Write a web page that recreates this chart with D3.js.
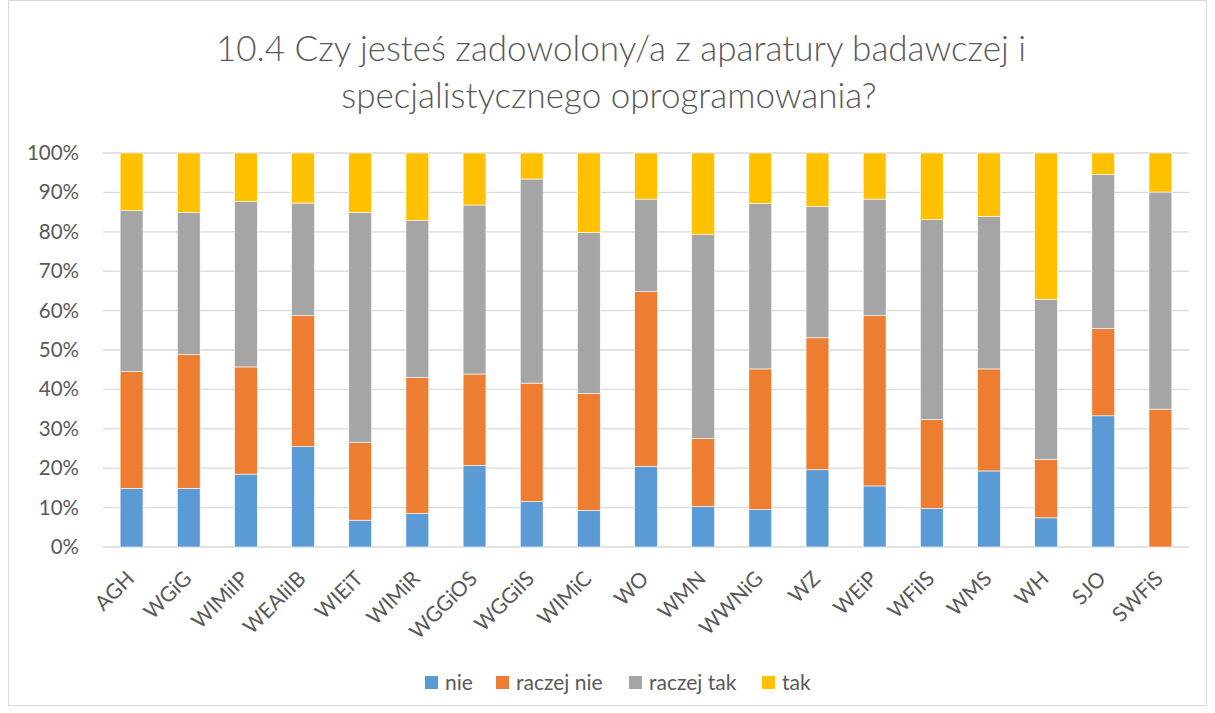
<!DOCTYPE html>
<html>
<head>
<meta charset="utf-8">
<script src="https://cdn.jsdelivr.net/npm/d3@7"></script>
<style>
  body { margin: 0; background: #fff; }
  text { font-family: Lato, "Open Sans", sans-serif; fill: #595959; }
</style>
</head>
<body>
<div id="chart"></div>
<script>
var svgWidth = 1215;
var svgHeight = 713;

var margin = { top: 153, right: 26, bottom: 166, left: 103 };
var width = svgWidth - margin.left - margin.right;
var height = svgHeight - margin.top - margin.bottom;

// data (percent of answers)
var categories = ["AGH", "WGiG", "WIMiIP", "WEAIiIB", "WIEiT", "WIMiR", "WGGiOS", "WGGiIS", "WIMiC",
  "WO", "WMN", "WWNiG", "WZ", "WEiP", "WFiIS", "WMS", "WH", "SJO", "SWFiS"];
var seriesNames = ["nie", "raczej nie", "raczej tak", "tak"];
var nie       = [14.9, 14.9, 18.5, 25.5, 6.8, 8.5, 20.7, 11.5, 9.3, 20.5, 10.3, 9.5, 19.6, 15.5, 9.8, 19.3, 7.4, 33.3, 0];
var raczejNie = [29.6, 33.9, 27.2, 33.2, 19.8, 34.5, 23.2, 30.1, 29.7, 44.3, 17.3, 35.7, 33.5, 43.2, 22.6, 25.9, 14.8, 22.2, 35.0];
var raczejTak = [40.9, 36.1, 42.0, 28.6, 58.3, 39.9, 42.9, 51.8, 40.8, 23.5, 51.7, 42.0, 33.3, 29.6, 50.7, 38.7, 40.7, 39.0, 55.1];
var tak       = [14.6, 15.1, 12.3, 12.7, 15.1, 17.1, 13.2, 6.6, 20.2, 11.7, 20.7, 12.8, 13.6, 11.7, 16.9, 16.1, 37.1, 5.5, 9.9];
var yTicks = [0, 0.1, 0.2, 0.3, 0.4, 0.5, 0.6, 0.7, 0.8, 0.9, 1];
var colors = ["#5B9BD5", "#ED7D31", "#A5A5A5", "#FFC000"];

var rows = categories.map(function(c, i) {
  return { cat: c, "nie": nie[i], "raczej nie": raczejNie[i], "raczej tak": raczejTak[i], "tak": tak[i] };
});

var svg = d3.select("#chart")
  .append("svg")
  .attr("width", svgWidth)
  .attr("height", svgHeight);

// chart border
svg.append("rect")
  .attr("x", 8.5).attr("y", 0.5)
  .attr("width", 1198).attr("height", 705)
  .attr("fill", "#fff")
  .attr("stroke", "#d9d9d9");

// title
var title = svg.append("text")
  .attr("text-anchor", "middle")
  .attr("font-size", "35px")
  .attr("font-weight", 300);
title.append("tspan").attr("x", 621).attr("y", 61).text("10.4 Czy jesteś zadowolony/a z aparatury badawczej i");
title.append("tspan").attr("x", 609).attr("y", 108).text("specjalistycznego oprogramowania?");

var chartGroup = svg.append("g")
  .attr("transform", `translate(${margin.left}, ${margin.top})`);

var xScale = d3.scaleBand()
  .domain(categories)
  .range([0, width])
  .paddingInner(0.6)
  .paddingOuter(0.3);

var yScale = d3.scaleLinear()
  .domain([0, 1])
  .range([height, 0]);

// gridlines
chartGroup.append("g")
  .selectAll("line")
  .data(yTicks)
  .enter()
  .append("line")
  .attr("x1", 0)
  .attr("x2", width)
  .attr("y1", d => yScale(d))
  .attr("y2", d => yScale(d))
  .attr("stroke", "#d9d9d9")
  .attr("stroke-width", 1.3);

var leftAxis = d3.axisLeft(yScale)
  .tickValues(yTicks)
  .tickFormat(d3.format(".0%"))
  .tickSize(0)
  .tickPadding(24);

chartGroup.append("g")
  .call(leftAxis)
  .call(g => g.select(".domain").remove())
  .selectAll("text")
  .attr("font-size", "20.5px")
  .attr("font-family", "Lato, sans-serif")
  .attr("fill", "#595959");

// stacked bars
var stack = d3.stack().keys(seriesNames);
var stacked = stack(rows);

chartGroup.selectAll(".series")
  .data(stacked)
  .enter()
  .append("g")
  .attr("class", "series")
  .attr("fill", (d, i) => colors[i])
  .selectAll("rect")
  .data(d => d)
  .enter()
  .append("rect")
  .attr("x", d => xScale(d.data.cat))
  .attr("width", xScale.bandwidth())
  .attr("y", d => yScale(d[1] / 100))
  .attr("height", d => yScale(d[0] / 100) - yScale(d[1] / 100))
  .attr("stroke", "#fff")
  .attr("stroke-width", 0.6);

// x labels
var bottomAxis = d3.axisBottom(xScale).tickSize(0).tickPadding(0);
var xAxis = chartGroup.append("g")
  .attr("transform", `translate(0, ${height})`)
  .call(bottomAxis);
xAxis.select(".domain").remove();
xAxis.selectAll("text")
  .attr("font-size", "21px")
  .attr("font-family", "Lato, sans-serif")
  .attr("fill", "#595959")
  .attr("text-anchor", "end")
  .attr("dy", 0)
  .attr("y", 0)
  .attr("transform", "translate(4, 33) rotate(-45)");

// legend
var legendX = [425, 496, 629, 762];
var legend = svg.append("g")
  .selectAll("g")
  .data(seriesNames)
  .enter()
  .append("g")
  .attr("transform", (d, i) => `translate(${legendX[i]}, 676)`);
legend.append("rect")
  .attr("width", 13)
  .attr("height", 13)
  .attr("fill", (d, i) => colors[i]);
legend.append("text")
  .attr("x", 20)
  .attr("y", 13.5)
  .attr("font-size", "21px")
  .text(d => d);
</script>
</body>
</html>
